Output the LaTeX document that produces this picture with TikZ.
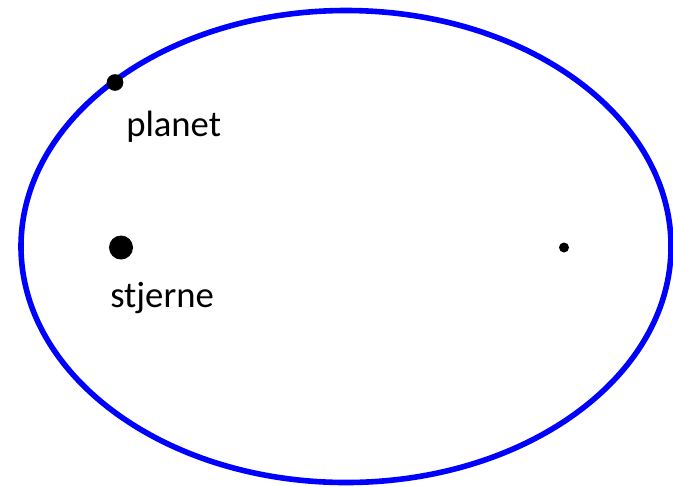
\documentclass[tikz,border=0pt]{standalone}
\usepackage{fontspec}
\setmainfont{Carlito}

\begin{document}
\begin{tikzpicture}[x=0.75pt,y=-0.75pt,
  dot/.style={circle,fill=black,inner sep=0pt},
  lbl/.style={anchor=base west,inner sep=0pt,font=\fontsize{27.5}{33}\selectfont}]

  \useasboundingbox (0,0) rectangle (673,486);
  % bane
  \draw[blue, line width=4.2pt] (346,246.5) ellipse [x radius=325, y radius=236];
  % planet og stjerne
  \node[dot, minimum size=12.5pt] (planet) at (115,82.5) {};
  \node[lbl] (planetlbl) at (126,136) {planet};
  \node[dot, minimum size=18pt] (stjerne) at (121,247.5) {};
  \node[lbl] (stjernelbl) at (110,307) {stjerne};
  \node[dot, minimum size=7.5pt] (fokus) at (564,247.5) {};

\end{tikzpicture}
\end{document}
